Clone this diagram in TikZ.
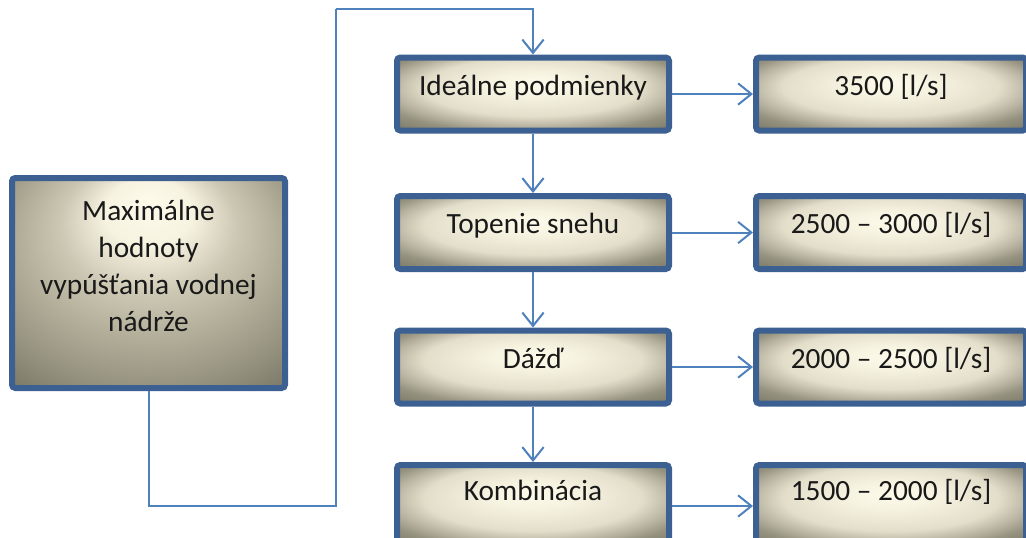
\documentclass[tikz,border=0pt]{standalone}
\usepackage{fontspec}
\setmainfont{Carlito}
\usetikzlibrary{arrows.meta}

\definecolor{boxedge}{RGB}{60,96,146}
\definecolor{flow}{RGB}{79,129,189}
\definecolor{shA}{RGB}{253,250,234}
\definecolor{shB}{RGB}{247,243,225}
\definecolor{shC}{RGB}{226,222,202}
\definecolor{shD}{RGB}{182,178,159}
\definecolor{shE}{RGB}{150,146,128}
\definecolor{shF}{RGB}{118,115,98}
\definecolor{shG}{RGB}{205,200,180}
\definecolor{shH}{RGB}{170,166,146}

% warm parchment-like gradient, lightest a little above the middle
\pgfdeclareradialshading{parchment}{\pgfpoint{0bp}{8bp}}{%
  color(0bp)=(shA); color(8bp)=(shB); color(20bp)=(shC);
  color(26bp)=(shD); color(30bp)=(shE); color(38bp)=(shF); color(50bp)=(shF)}
% same gradient with its light spot close to the top edge
\pgfdeclareradialshading{parchmenttop}{\pgfpoint{0bp}{20bp}}{%
  color(0bp)=(shA); color(8bp)=(shB); color(16bp)=(shG);
  color(26bp)=(shH); color(32bp)=(shE); color(40bp)=(shF); color(50bp)=(shF)}

\tikzset{
  box/.style={draw=boxedge, line width=4.5pt, rounded corners=2.5pt,
    shading=parchment, inner sep=0pt, text=black!90,
    font=\fontsize{22pt}{27.75pt}\selectfont,
    text height=12pt, text depth=10.5pt},
  midbox/.style={box, minimum width=204pt, minimum height=54.75pt},
  valbox/.style={box, minimum width=202.5pt, minimum height=54.75pt},
  conn/.style={draw=flow, line width=1.5pt,
    -{Straight Barb[length=10pt,width=16pt]}},
  link/.style={draw=flow, line width=1.5pt}
}

\begin{document}
\begin{tikzpicture}[x=0.75pt, y=-0.75pt]
\useasboundingbox (0,0) rectangle (1026,537);
\clip (0,0) rectangle (1026,537);

% source box
\node[box, shading=parchmenttop, align=center,
      minimum width=204.75pt, minimum height=157.5pt,
      text height=84pt, text depth=12pt] (src) at (148.5,283)
  {Maximálne\\hodnoty\\vypúšťania vodnej\\nádrže};

% conditions
\node[midbox] (m1) at (533,94)    {Ideálne podmienky};
\node[midbox] (m2) at (533,232.5) {Topenie snehu};
\node[midbox] (m3) at (533,367)   {Dážď};
\node[midbox, minimum height=61.5pt, text depth=21pt] (m4) at (533,506) {Kombinácia};

% discharge values
\node[valbox] (r1) at (891,94)    {3500 [l/s]};
\node[valbox] (r2) at (891,232.5) {2500 – 3000 [l/s]};
\node[valbox] (r3) at (891,367)   {2000 – 2500 [l/s]};
\node[valbox, minimum height=61.5pt, text depth=21pt] (r4) at (891,506) {1500 – 2000 [l/s]};

% feed line from the source box to the first condition
\coordinate (c1) at (336,506);
\coordinate (c2) at (336,9);
\draw[link] (src.south) |- (c1) -- (c2);
\draw[conn] (c2) -| (m1.north);

% vertical chain
\draw[conn] (m1.south) -- (m2.north);
\draw[conn] (m2.south) -- (m3.north);
\draw[conn] (m3.south) -- (m4.north);

% horizontal links to values
\draw[conn] (m1.east) -- (r1.west);
\draw[conn] (m2.east) -- (r2.west);
\draw[conn] (m3.east) -- (r3.west);
\draw[conn] (m4.east) -- (r4.west);
\end{tikzpicture}
\end{document}
